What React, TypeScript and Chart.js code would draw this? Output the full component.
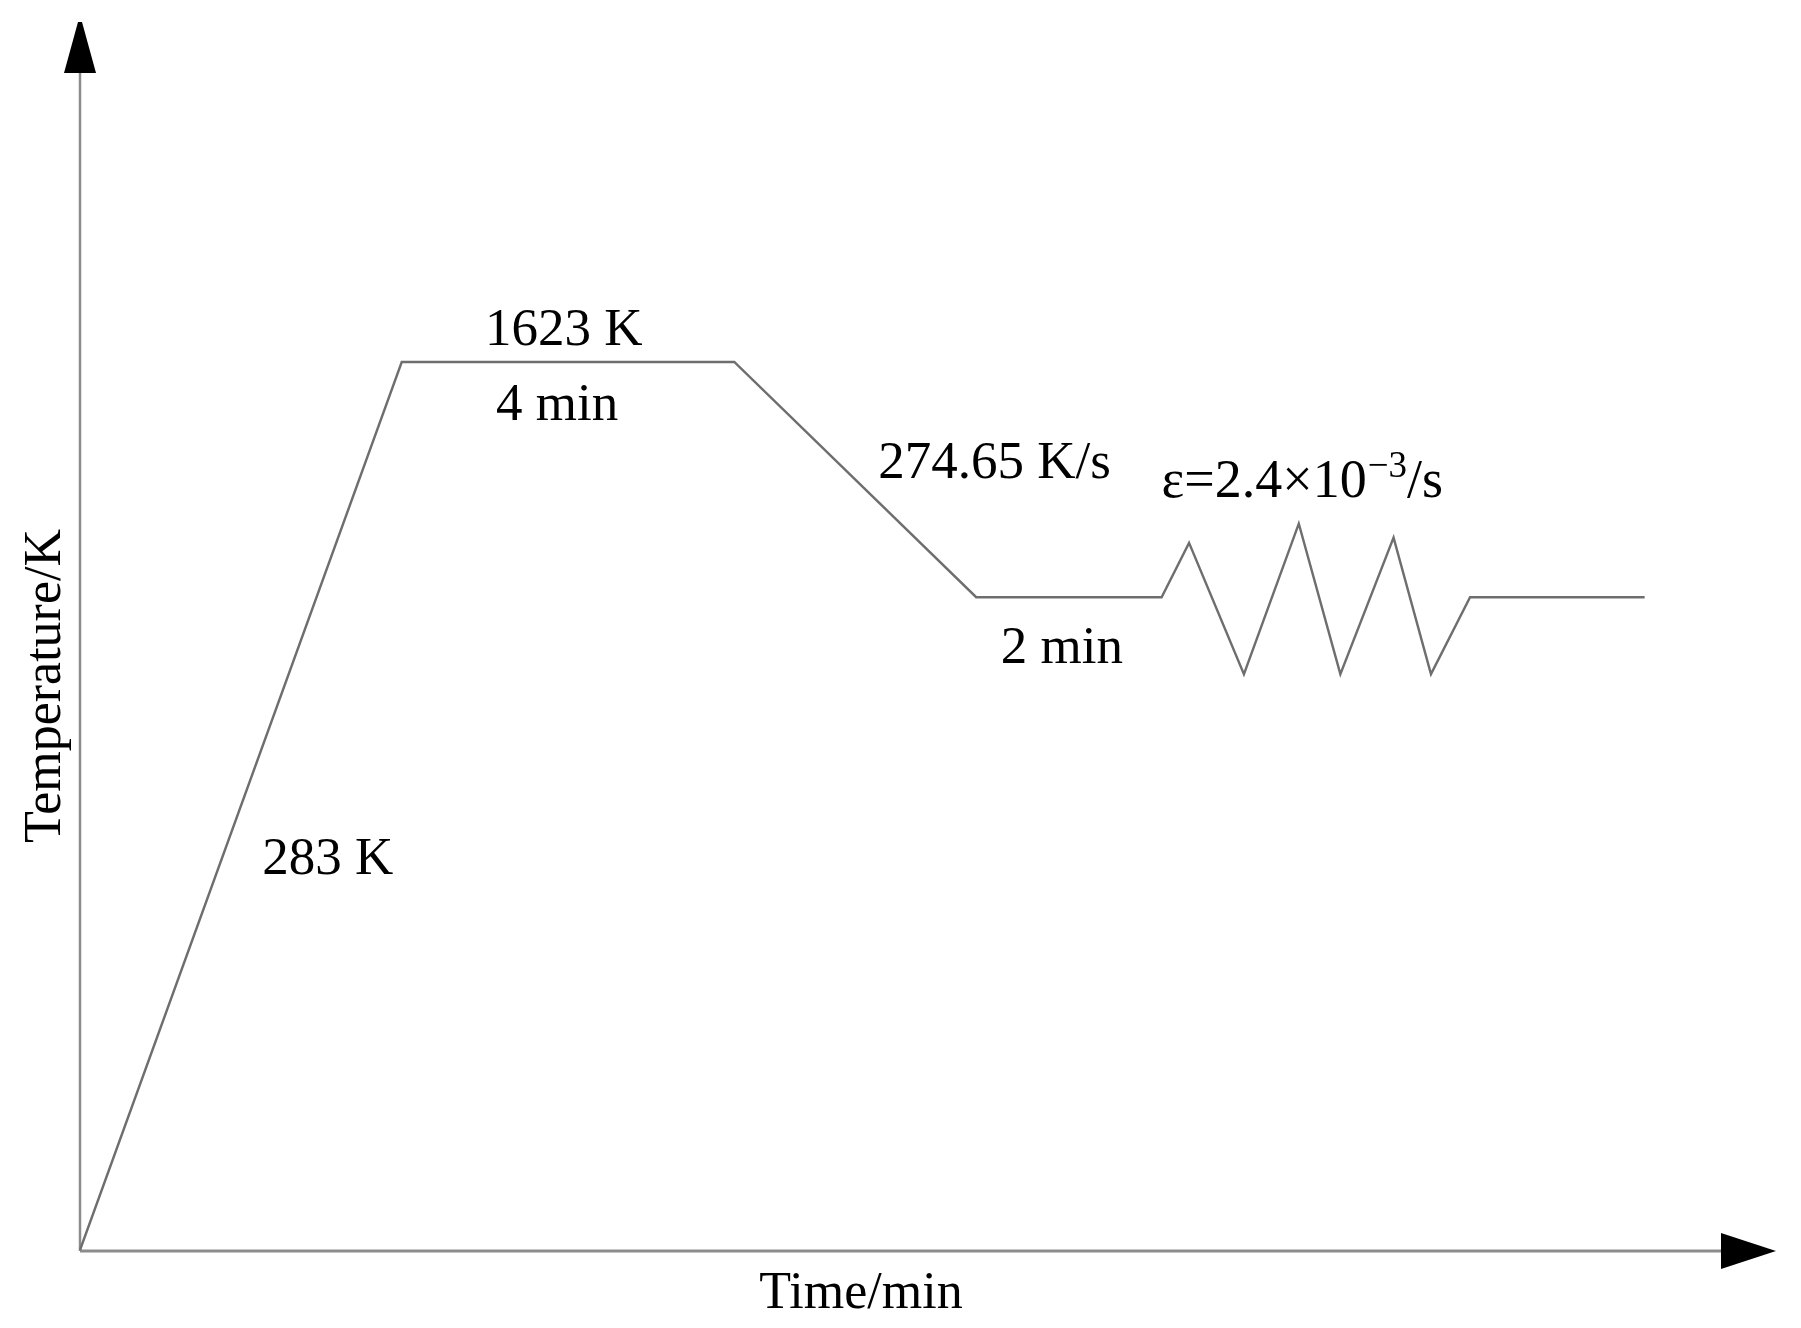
import React, { useEffect, useRef } from "react";
import { Chart, registerables } from "chart.js";

Chart.register(...registerables);

// Schematic thermal cycle (time in arbitrary min-like units, temperature in K)
const timePoints = [0, 3.87, 7.87, 10.78, 13.01, 13.34, 14.0, 14.66, 15.16, 15.8, 16.25, 16.72, 18.82];
const temperatures = [283, 1623, 1623, 1268, 1268, 1350, 1152, 1379, 1152, 1358, 1152, 1268, 1268];

const X_MIN = 0;
const X_MAX = 20.4;
const Y_MIN = 283;
const Y_MAX = 2136;

// Annotation texts anchored in data coordinates (centre x, baseline y)
const annotationTexts = ["1623 K", "4 min", "274.65 K/s", "2 min", "283 K"];
const annotationX = [5.82, 5.74, 11.0, 11.81, 2.98];
const annotationY = [1649, 1536, 1448, 1169, 850];

// Strain-rate label (left anchored)
const strainMain = "ε=2.4×10";
const strainSup = "−3";
const strainTail = "/s";
const strainX = 13.01;
const strainY = 1419;

const xTitle = "Time/min";
const yTitle = "Temperature/K";

const FONT = '"Liberation Serif", "Times New Roman", serif';
const AXIS_COLOR = "#8c8c8c";
const LINE_COLOR = "#6e6e6e";

const schematicPlugin = {
  id: "schematic",
  beforeDatasetsDraw(chart: any) {
    const { ctx, chartArea } = chart;
    const { left, right, top, bottom } = chartArea;
    ctx.save();
    ctx.strokeStyle = AXIS_COLOR;
    ctx.lineWidth = 2.5;
    // y axis
    ctx.beginPath();
    ctx.moveTo(left, bottom + 1);
    ctx.lineTo(left, top + 50);
    ctx.stroke();
    // x axis
    ctx.lineWidth = 3;
    ctx.beginPath();
    ctx.moveTo(left, bottom + 1);
    ctx.lineTo(right - 54, bottom + 1);
    ctx.stroke();
    // arrows
    ctx.fillStyle = "#000";
    ctx.beginPath();
    ctx.moveTo(left - 2, top);
    ctx.lineTo(left + 2, top);
    ctx.lineTo(left + 16, top + 51);
    ctx.lineTo(left - 16, top + 51);
    ctx.closePath();
    ctx.fill();
    ctx.beginPath();
    ctx.moveTo(right, bottom + 1);
    ctx.lineTo(right - 55, bottom + 1 - 18);
    ctx.lineTo(right - 55, bottom + 1 + 18);
    ctx.closePath();
    ctx.fill();
    ctx.restore();
  },
  afterDraw(chart: any) {
    const { ctx } = chart;
    const xs = chart.scales.x;
    const ys = chart.scales.y;
    ctx.save();
    ctx.fillStyle = "#000";
    ctx.textBaseline = "alphabetic";
    ctx.font = `53px ${FONT}`;
    ctx.textAlign = "center";
    annotationTexts.forEach((t, i) => {
      ctx.fillText(t, xs.getPixelForValue(annotationX[i]), ys.getPixelForValue(annotationY[i]));
    });
    // strain rate with superscript
    ctx.textAlign = "left";
    let px = xs.getPixelForValue(strainX);
    const py = ys.getPixelForValue(strainY);
    ctx.font = `54px ${FONT}`;
    ctx.fillText(strainMain, px, py);
    px += ctx.measureText(strainMain).width + 1;
    ctx.font = `37px ${FONT}`;
    ctx.fillText(strainSup, px, py - 20);
    px += ctx.measureText(strainSup).width;
    ctx.font = `54px ${FONT}`;
    ctx.fillText(strainTail, px, py);
    // axis titles
    ctx.font = `52px ${FONT}`;
    ctx.textAlign = "center";
    ctx.fillText(xTitle, 861, 1308);
    ctx.translate(60, 686);
    ctx.rotate(-Math.PI / 2);
    ctx.fillText(yTitle, 0, 0);
    ctx.restore();
  },
};

export default function App() {
  const ref = useRef<HTMLCanvasElement | null>(null);
  useEffect(() => {
    if (!ref.current) return;
    const chart = new Chart(ref.current, {
      type: "line",
      data: {
        datasets: [
          {
            data: timePoints.map((t, i) => ({ x: t, y: temperatures[i] })),
            borderColor: LINE_COLOR,
            borderWidth: 2.4,
            pointRadius: 0,
            tension: 0,
            fill: false,
            clip: false as any,
          },
        ],
      },
      options: {
        animation: false,
        responsive: false,
        layout: { padding: { left: 80, right: 25, top: 22, bottom: 78 } },
        plugins: { legend: { display: false }, tooltip: { enabled: false } },
        scales: {
          x: { type: "linear", min: X_MIN, max: X_MAX, display: false },
          y: { type: "linear", min: Y_MIN, max: Y_MAX, display: false },
        },
      },
      plugins: [schematicPlugin],
    });
    return () => chart.destroy();
  }, []);
  return (
    <div style={{ position: "fixed", left: 0, top: 0, width: 1801, height: 1328, background: "#fff" }}>
      <canvas ref={ref} width={1801} height={1328} />
    </div>
  );
}
